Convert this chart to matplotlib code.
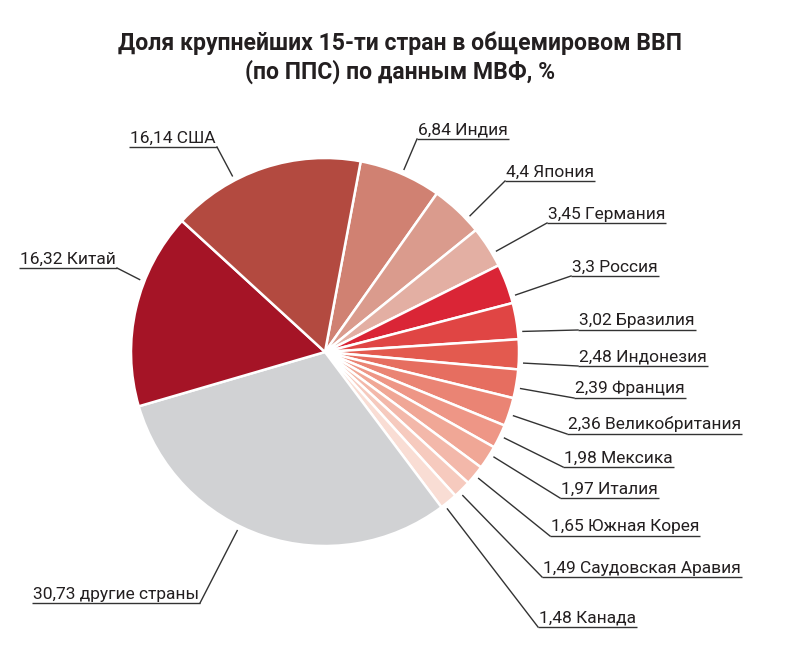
import matplotlib
matplotlib.use('Agg')
import matplotlib.pyplot as plt
import numpy as np

# ---------------- data ----------------
countries = ['Индия', 'Япония', 'Германия', 'Россия', 'Бразилия', 'Индонезия',
             'Франция', 'Великобритания', 'Мексика', 'Италия', 'Южная Корея',
             'Саудовская Аравия', 'Канада', 'другие страны', 'Китай', 'США']
shares = [6.84, 4.4, 3.45, 3.3, 3.02, 2.48, 2.39, 2.36, 1.98, 1.97, 1.65,
          1.49, 1.48, 30.73, 16.32, 16.14]
value_labels = ['6,84', '4,4', '3,45', '3,3', '3,02', '2,48', '2,39', '2,36',
                '1,98', '1,97', '1,65', '1,49', '1,48', '30,73', '16,32', '16,14']
title = 'Доля крупнейших 15-ти стран в общемировом ВВП\n(по ППС) по данным МВФ, %'

# ---------------- style / layout ----------------
colors = ['#d08172', '#da9b8d', '#e3afa3', '#da2536', '#e04544', '#e35a4f',
          '#e66e60', '#ea8474', '#ee9686', '#f0a796', '#f3b8aa', '#f6cabe',
          '#f9ddd4', '#d1d2d4', '#a51426', '#b34a40']
# label anchor: (x, y) of the underline end nearest the pie, in pixels, and side
label_anchor = [(417, 139, 'r'), (505, 181, 'r'), (547, 223, 'r'), (571, 276, 'r'),
                (578, 330, 'r'), (578, 366, 'r'), (574, 398, 'r'), (567, 434, 'r'),
                (563, 467, 'r'), (560, 498, 'r'), (550, 536, 'r'), (542, 577, 'r'),
                (538, 627, 'r'), (200, 603, 'l'), (117, 268, 'l'), (217, 147, 'l')]
# position of the leader end inside each wedge (0 = clockwise start, 1 = end)
leader_frac = [0.52, 0.73, 0.68, 0.83, 0.8, 0.78, 0.63, 0.58, 0.47, 0.35,
               0.5, 0.7, 0.8, 0.57, 0.64, 0.34]

W, H = 800, 654
CX, CY, R = 325, 352, 194
LEADER_R = 199
TXT = '#231f20'
LINE = '#333333'

plt.rcParams['font.family'] = ['Roboto', 'DejaVu Sans']

fig = plt.figure(figsize=(W / 100, H / 100), dpi=100)
ax = fig.add_axes([0, 0, 1, 1])

wedges, _ = ax.pie(shares, colors=colors, startangle=79.4, counterclock=False,
                   center=(CX, H - CY), radius=R,
                   wedgeprops=dict(edgecolor='white', linewidth=1.8))
ax.set_xlim(0, W)
ax.set_ylim(0, H)
ax.set_aspect('auto')
ax.axis('off')

fig.canvas.draw()
renderer = fig.canvas.get_renderer()
inv = ax.transData.inverted()

for w, name, val, (ax_x, ax_y, side), fr in zip(wedges, countries, value_labels,
                                                 label_anchor, leader_frac):
    ang = np.deg2rad(w.theta2 - fr * (w.theta2 - w.theta1))
    px = CX + LEADER_R * np.cos(ang)
    py = (H - CY) + LEADER_R * np.sin(ang)
    uy = H - ax_y
    if side == 'r':
        t = ax.text(ax_x + 1, uy + 4.5, f'{val} {name}', ha='left', va='baseline',
                    fontsize=12.5, color=TXT)
    else:
        t = ax.text(ax_x - 1, uy + 4.5, f'{val} {name}', ha='right', va='baseline',
                    fontsize=12.5, color=TXT)
    bb = t.get_window_extent(renderer)
    x0 = inv.transform((bb.x0, 0))[0]
    x1 = inv.transform((bb.x1, 0))[0]
    ax.plot([x0 - 1, x1 + 1], [uy, uy], color=LINE, lw=1.0, solid_capstyle='butt')
    ax.plot([ax_x, px], [uy, py], color=LINE, lw=1.0)

fig.text(0.5, 1 - 58 / H, title, ha='center', va='center', fontsize=16.6,
         fontweight='bold', color=TXT, linespacing=1.25)

fig.savefig('out.png', dpi=100, facecolor='white')
